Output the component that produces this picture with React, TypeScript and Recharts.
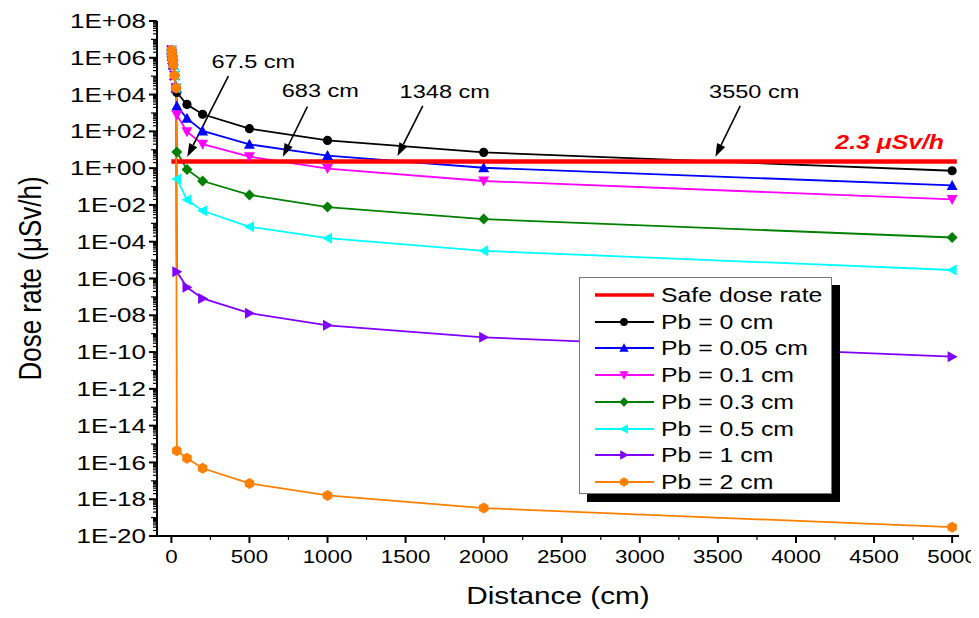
import React from "react";
import { ComposedChart, Line, XAxis, YAxis, ReferenceLine, ReferenceDot, Legend } from "recharts";

// points close to the source, shared by every curve (cm, µSv/h)
const nearDistance = [1, 3, 5, 8, 12, 20, 30];
const nearDose = [2.6e6, 1.8e6, 1.2e6, 8e5, 4e5, 1.1e5, 2.3e4];

// behind the lead shield
const distance = [35, 100, 200, 500, 1000, 2000, 5000];
const pb0 = [1.3e4, 2.9e3, 8.5e2, 1.4e2, 3.2e1, 7.2, 0.72];
const pb005 = [2.4e3, 5.1e2, 1.05e2, 1.96e1, 4.8, 1.05, 0.115];
const pb01 = [7.7e2, 9.5e1, 2.0e1, 4.2, 0.95, 0.2, 0.02];
const pb03 = [7.5, 0.85, 0.2, 3.5e-2, 7.6e-3, 1.7e-3, 1.7e-4];
const pb05 = [0.26, 1.9e-2, 4.8e-3, 6.5e-4, 1.55e-4, 3.2e-5, 2.9e-6];
const pb1 = [2.3e-6, 3.3e-7, 8.3e-8, 1.3e-8, 2.85e-9, 6.3e-10, 5.6e-11];
const pb2 = [4.3e-16, 1.7e-16, 4.8e-17, 7.2e-18, 1.6e-18, 3.3e-19, 3e-20];

const safeDistance = [0, 5030];
const safeDose = 2.3;

const xTicks = [0, 500, 1000, 1500, 2000, 2500, 3000, 3500, 4000, 4500, 5000];
const yTicks = [1e8, 1e6, 1e4, 1e2, 1, 1e-2, 1e-4, 1e-6, 1e-8, 1e-10, 1e-12, 1e-14, 1e-16, 1e-18, 1e-20];

const seriesNames = ["Pb = 0 cm", "Pb = 0.05 cm", "Pb = 0.1 cm", "Pb = 0.3 cm", "Pb = 0.5 cm", "Pb = 1 cm", "Pb = 2 cm"];

// arrows: label, tail (x, dose), head (x, dose)
const arrowLabels = ["67.5 cm", "683 cm", "1348 cm", "3550 cm"];
const arrowTail = [[365, 1.0e5], [871, 2.2e3], [1610, 2.4e3], [3643, 2.4e3]];
const arrowHead = [[102, 4.2], [714, 4.2], [1448, 4.6], [3484, 4.2]];
const arrowTextOffset = [[25, -14], [13, -16], [22, -14], [14, -14]];

const FONT = "'Liberation Sans', Arial, sans-serif";
const STRETCH = 1.24;

type Shape = "circle" | "up" | "down" | "diamond" | "left" | "right" | "hexagon";

const series: { name: string; values: number[]; color: string; shape: Shape }[] = [
  { name: seriesNames[0], values: pb0, color: "#000000", shape: "circle" },
  { name: seriesNames[1], values: pb005, color: "#0000ff", shape: "up" },
  { name: seriesNames[2], values: pb01, color: "#ff00ff", shape: "down" },
  { name: seriesNames[3], values: pb03, color: "#008000", shape: "diamond" },
  { name: seriesNames[4], values: pb05, color: "#00ffff", shape: "left" },
  { name: seriesNames[5], values: pb1, color: "#8000ff", shape: "right" },
  { name: seriesNames[6], values: pb2, color: "#ff8000", shape: "hexagon" },
];

const toPoints = (values: number[]) => [
  ...nearDistance.map((x, i) => ({ x, y: nearDose[i] })),
  ...distance.map((x, i) => ({ x, y: values[i] })),
];

const safeLine = safeDistance.map((x) => ({ x, y: safeDose }));

// minor ticks
const xAllTicks: number[] = [];
for (let v = 0; v <= 5000; v += 250) xAllTicks.push(v);
const yAllTicks: number[] = [];
for (let k = -20; k <= 8; k++) {
  yAllTicks.push(Math.pow(10, k));
  if (k < 8) for (let m = 2; m <= 9; m++) yAllTicks.push(m * Math.pow(10, k));
}

function Marker({ cx, cy, shape, color, s = 1 }: { cx: number; cy: number; shape: Shape; color: string; s?: number }) {
  const r = 5 * s;
  const pts = (arr: number[][]) => arr.map(([a, b]) => `${cx + a * s},${cy + b * s}`).join(" ");
  switch (shape) {
    case "circle":
      return <circle cx={cx} cy={cy} r={4.6 * s} fill={color} />;
    case "up":
      return <polygon points={pts([[0, -5.5], [5.5, 4.5], [-5.5, 4.5]])} fill={color} />;
    case "down":
      return <polygon points={pts([[0, 5.5], [5.5, -4.5], [-5.5, -4.5]])} fill={color} />;
    case "left":
      return <polygon points={pts([[-5.5, 0], [4.5, -5.5], [4.5, 5.5]])} fill={color} />;
    case "right":
      return <polygon points={pts([[5.5, 0], [-4.5, -5.5], [-4.5, 5.5]])} fill={color} />;
    case "diamond":
      return <polygon points={pts([[0, -5.5], [5.5, 0], [0, 5.5], [-5.5, 0]])} fill={color} />;
    default: {
      const hex = [0, 1, 2, 3, 4, 5].map((i) => {
        const a = (Math.PI / 3) * i + Math.PI / 6;
        return `${cx + r * 1.1 * Math.cos(a)},${cy + r * 1.1 * Math.sin(a)}`;
      });
      return <polygon points={hex.join(" ")} fill={color} />;
    }
  }
}

const fmtExp = (e: number) => `1E${e < 0 ? "-" : "+"}${String(Math.abs(e)).padStart(2, "0")}`;

function YTick(props: any) {
  const { x, y, payload } = props;
  const e = Math.log10(payload.value);
  const re = Math.round(e);
  const decade = Math.abs(e - re) < 1e-6;
  const major = decade && re % 2 === 0;
  const len = major ? 8 : decade ? 6 : 4;
  return (
    <g>
      <line x1={x - len} x2={x} y1={y} y2={y} stroke="#000" strokeWidth={major ? 2 : 1.2} />
      {major && (
        <text
          transform={`translate(${x - 11},${y}) scale(${STRETCH},1)`}
          textAnchor="end"
          dominantBaseline="central"
          fontSize={21}
          fontFamily={FONT}
          fill="#000"
        >
          {fmtExp(re)}
        </text>
      )}
    </g>
  );
}

function XTick(props: any) {
  const { x, y, payload } = props;
  const major = payload.value % 500 === 0;
  return (
    <g>
      <line x1={x} x2={x} y1={y} y2={y + (major ? 7 : 4)} stroke="#000" strokeWidth={major ? 2 : 1.2} />
      {major && (
        <text
          transform={`translate(${x},${y + 21}) scale(${STRETCH},1)`}
          textAnchor="middle"
          dominantBaseline="central"
          fontSize={18}
          fontFamily={FONT}
          fill="#000"
        >
          {payload.value}
        </text>
      )}
    </g>
  );
}

const arrowShape = (i: number) => (p: any) => {
  const { x1, y1, x2, y2 } = p;
  const ang = Math.atan2(y2 - y1, x2 - x1);
  const L = 13;
  const W = 4.5;
  const bx = x2 - L * Math.cos(ang);
  const by = y2 - L * Math.sin(ang);
  const px = -Math.sin(ang) * W;
  const py = Math.cos(ang) * W;
  return (
    <g>
      <line x1={x1} y1={y1} x2={bx} y2={by} stroke="#000" strokeWidth={1.6} />
      <polygon points={`${x2},${y2} ${bx + px},${by + py} ${bx - px},${by - py}`} fill="#000" />
      <text
        transform={`translate(${x1 + arrowTextOffset[i][0]},${y1 + arrowTextOffset[i][1]}) scale(${STRETCH},1)`}
        textAnchor="middle"
        dominantBaseline="central"
        fontSize={19}
        fontFamily={FONT}
        fill="#000"
      >
        {arrowLabels[i]}
      </text>
    </g>
  );
};

function LegendBox() {
  const rows = [{ name: "Safe dose rate", color: "#ff0000", shape: null as Shape | null }, ...series];
  return (
    <div
      style={{
        width: 253,
        height: 217,
        boxSizing: "border-box",
        border: "1px solid #777",
        background: "#fff",
        boxShadow: "8px 8px 0 #000",
        position: "relative",
        fontFamily: FONT,
      }}
    >
      {rows.map((r, i) => (
        <div key={i} style={{ position: "absolute", left: 0, top: 4 + i * 26.7, height: 26, width: "100%" }}>
          <svg width={80} height={26} style={{ position: "absolute", left: 0, top: 0 }}>
            <line x1={15} x2={74} y1={13} y2={13} stroke={r.color} strokeWidth={r.shape ? 1.8 : 3.5} />
            {r.shape && <Marker cx={44} cy={13} shape={r.shape} color={r.color} s={0.85} />}
          </svg>
          <span
            style={{
              position: "absolute",
              left: 81,
              top: 0,
              lineHeight: "26px",
              fontSize: 20,
              transform: `scaleX(${STRETCH})`,
              transformOrigin: "left center",
              whiteSpace: "nowrap",
              color: "#000",
            }}
          >
            {r.name}
          </span>
        </div>
      ))}
    </div>
  );
}

export default function App() {
  return (
    <div style={{ width: 971, height: 602, fontFamily: FONT }}>
      <ComposedChart width={971} height={602} margin={{ top: 13, right: 20, bottom: 0, left: 0 }}>
        <XAxis
          type="number"
          dataKey="x"
          domain={[-92, 5044]}
          ticks={xAllTicks}
          interval={0}
          allowDataOverflow
          height={74}
          tickSize={0}
          tickMargin={0}
          tickLine={false}
          tick={XTick}
          axisLine={{ stroke: "#000", strokeWidth: 2 }}
          label={{
            content: (p: any) => {
              const vb = p.viewBox;
              return (
                <text
                  transform={`translate(${vb.x + vb.width / 2},${vb.y + 60}) scale(${STRETCH},1)`}
                  textAnchor="middle"
                  dominantBaseline="central"
                  fontSize={24}
                  fontFamily={FONT}
                  fill="#000"
                >
                  Distance (cm)
                </text>
              );
            },
          }}
        />
        <YAxis
          type="number"
          scale="log"
          domain={[1e-20, 1e8]}
          ticks={yAllTicks}
          interval={0}
          allowDataOverflow
          width={149}
          tickSize={0}
          tickMargin={0}
          tickLine={false}
          tick={YTick}
          axisLine={{ stroke: "#000", strokeWidth: 2 }}
          label={{
            content: (p: any) => {
              const vb = p.viewBox;
              return (
                <text
                  transform={`translate(${vb.x + 21},${vb.y + vb.height / 2}) scale(${STRETCH},1) rotate(-90)`}
                  textAnchor="middle"
                  dominantBaseline="central"
                  fontSize={26}
                  fontFamily={FONT}
                  fill="#000"
                >
                  Dose rate (μSv/h)
                </text>
              );
            },
          }}
        />
        {series.slice(0, 6).map((s) => (
          <Line
            key={s.name}
            data={toPoints(s.values)}
            dataKey="y"
            name={s.name}
            type="linear"
            stroke={s.color}
            strokeWidth={1.8}
            isAnimationActive={false}
            dot={(p: any) => <Marker key={`${s.name}-${p.index}`} cx={p.cx} cy={p.cy} shape={s.shape} color={s.color} />}
            activeDot={false}
          />
        ))}
        <Line
          data={safeLine}
          dataKey="y"
          name="Safe dose rate"
          type="linear"
          stroke="#ff0000"
          strokeWidth={4.5}
          dot={false}
          activeDot={false}
          isAnimationActive={false}
        />
        {series.slice(6).map((s) => (
          <Line
            key={s.name}
            data={toPoints(s.values)}
            dataKey="y"
            name={s.name}
            type="linear"
            stroke={s.color}
            strokeWidth={1.8}
            isAnimationActive={false}
            dot={(p: any) => <Marker key={`${s.name}-${p.index}`} cx={p.cx} cy={p.cy} shape={s.shape} color={s.color} />}
            activeDot={false}
          />
        ))}
        {arrowLabels.map((label, i) => (
          <ReferenceLine
            key={label}
            segment={[
              { x: arrowTail[i][0], y: arrowTail[i][1] },
              { x: arrowHead[i][0], y: arrowHead[i][1] },
            ]}
            ifOverflow="visible"
            shape={arrowShape(i)}
          />
        ))}
        <ReferenceDot
          x={4600}
          y={26}
          ifOverflow="visible"
          shape={(p: any) => (
            <text
              transform={`translate(${p.cx},${p.cy}) scale(${STRETCH},1)`}
              textAnchor="middle"
              dominantBaseline="central"
              fontSize={20}
              fontWeight="bold"
              fontStyle="italic"
              fontFamily={FONT}
              fill="#ff0000"
            >
              2.3 μSv/h
            </text>
          )}
        />
        <Legend
          layout="vertical"
          align="center"
          verticalAlign="middle"
          content={() => <LegendBox />}
          wrapperStyle={{ left: 571, top: 269, width: 253, height: 217 }}
        />
      </ComposedChart>
    </div>
  );
}
